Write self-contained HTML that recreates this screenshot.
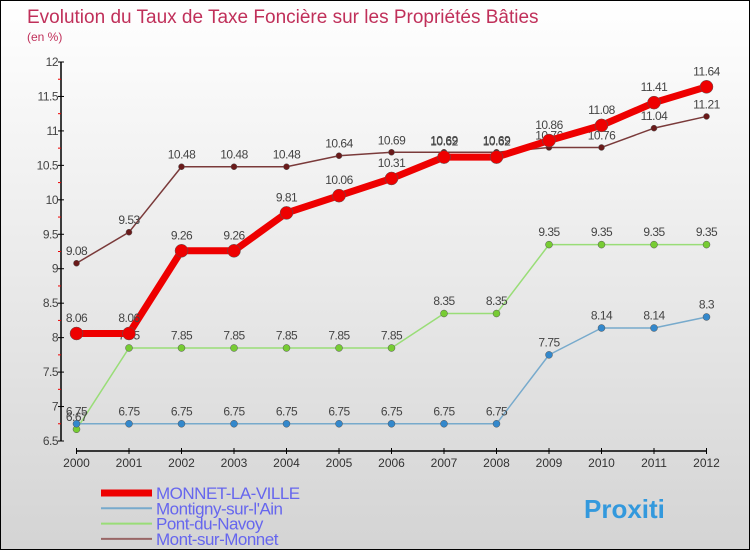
<!DOCTYPE html>
<html><head><meta charset="utf-8"><style>
body{margin:0}
#c{width:750px;height:550px;position:relative;box-sizing:border-box;border:1px solid #000;background:linear-gradient(#ffffff,#d4d4d4);font-family:"Liberation Sans","DejaVu Sans",sans-serif;overflow:hidden}
svg{position:absolute;left:0;top:0}
</style></head><body>
<div id="c">
<svg id="s" width="750" height="550">
<text x="26" y="22" font-size="19" fill="#c0305a">Evolution du Taux de Taxe Foncière sur les Propriétés Bâties</text>
<text x="26" y="40" font-size="12" fill="#c0305a">(en %)</text>
</svg>
</div>
<script>
const years=[2000,2001,2002,2003,2004,2005,2006,2007,2008,2009,2010,2011,2012];
const yTicks=[6.5,7,7.5,8,8.5,9,9.5,10,10.5,11,11.5,12];
const monnet=[8.06,8.06,9.26,9.26,9.81,10.06,10.31,10.62,10.62,10.86,11.08,11.41,11.64];
const montigny=[6.75,6.75,6.75,6.75,6.75,6.75,6.75,6.75,6.75,7.75,8.14,8.14,8.3];
const pont=[6.67,7.85,7.85,7.85,7.85,7.85,7.85,8.35,8.35,9.35,9.35,9.35,9.35];
const montsur=[9.08,9.53,10.48,10.48,10.48,10.64,10.69,10.69,10.69,10.76,10.76,11.04,11.21];
const NS="http://www.w3.org/2000/svg",s=document.getElementById('s');
const X=i=>75.5+i*52.5, Y=v=>440-(v-6.5)*(379/5.5);
function el(t,a,p){const e=document.createElementNS(NS,t);for(const k in a)e.setAttribute(k,a[k]);(p||s).appendChild(e);return e;}
let ax=el('line',{x1:60,y1:61,x2:60,y2:440,stroke:'#000','stroke-width':1.5});

yTicks.forEach((v,i)=>{el('line',{x1:57,x2:63,y1:Y(v),y2:Y(v),stroke:'#000'});
 if(i<yTicks.length-1)el('line',{x1:57,x2:60,y1:Y(v+0.25),y2:Y(v+0.25),stroke:'#e00'});
 const t=el('text',{x:57,y:Y(v)+4,'font-size':12,fill:'#444','text-anchor':'end','letter-spacing':'-0.5'});t.textContent=String(v);
 });
let xa=el('line',{x1:75,y1:450,x2:706,y2:450,stroke:'#000','stroke-width':1.5});

years.forEach((y,i)=>{el('line',{x1:X(i),x2:X(i),y1:447,y2:453,stroke:'#000'});
 const t=el('text',{x:X(i),y:466,'font-size':12,fill:'#333','text-anchor':'middle'});t.textContent=y;
 });
function series(d,col,w,r,fill,name){
 const g=el('g',{});
 el('polyline',{points:d.map((v,i)=>X(i)+','+Y(v)).join(' '),fill:'none',stroke:col,'stroke-width':w,'stroke-linejoin':'round'},g);
 d.forEach((v,i)=>{const c=el('circle',{cx:X(i),cy:Y(v),r:r,fill:fill,stroke:'#555','stroke-width':0.5},g);
  
  const t=el('text',{x:X(i),y:Y(v)-(r+5),'font-size':12,fill:'#444','text-anchor':'middle','letter-spacing':'-0.5'},g);t.textContent=String(v);});
}
series(montsur,'#7a3a3a',1.5,3,'#6a1a1a','mont-sur-monnet-series');
series(pont,'#99dd77',1.5,3.5,'#77cc33','pont-du-navoy-series');
series(montigny,'#77aacc',1.5,3.5,'#3388cc','montigny-series');
series(monnet,'#ee0000',7,6.5,'#ee0000','monnet-la-ville-series');
const leg=[['MONNET-LA-VILLE','#ee0000',7],['Montigny-sur-l\'Ain','#77aacc',2],['Pont-du-Navoy','#99dd77',2],['Mont-sur-Monnet','#996666',2]];
leg.forEach((l,i)=>{const g=el('g',{});
 const y=492+i*15.3;el('line',{x1:100,x2:151,y1:y,y2:y,stroke:l[1],'stroke-width':l[2]},g);
 const t=el('text',{x:155,y:y+6,'font-size':17,fill:'#6666ee','letter-spacing':'-0.5'},g);t.textContent=l[0];});
const p=el('text',{x:583,y:517,'font-size':26,'font-weight':'bold',fill:'#3399dd'});p.textContent='Proxiti';

</script>
</body></html>
